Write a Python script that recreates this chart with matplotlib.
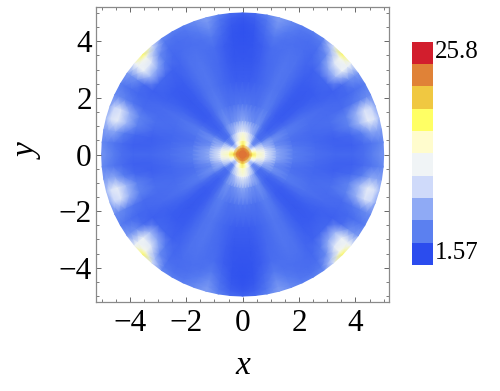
# disk heat map with stepped color legend
import numpy as np
import matplotlib
matplotlib.use("Agg")
import matplotlib.pyplot as plt
from matplotlib.colors import LinearSegmentedColormap, ListedColormap
from matplotlib.ticker import MultipleLocator

plt.rcParams["font.family"] = ["Liberation Serif", "DejaVu Serif"]

vmin = 1.57
vmax = 25.8
bar_colors = ["#2b4cee", "#5b80f0", "#8faaf5", "#cfdafa", "#f0f4f6",
              "#fffccd", "#ffff64", "#f0c841", "#e08237", "#d21e2d"]
bar_labels = ["1.57", "25.8"]
x_ticks = [-4, -2, 0, 2, 4]

radii = [0, 0.15, 0.25, 0.35, 0.5, 0.8, 1.2, 1.8, 2.6, 3.3, 3.9, 4.3, 4.6, 4.85, 5.0]
angles = list(range(0, 95, 5))
# one quadrant: rows are radii, columns are angles 0..90
field = [
    [23.5, 23.5, 23.5, 23.5, 23.5, 23.5, 23.5, 23.5, 23.5, 23.5, 23.5, 23.5, 23.5, 23.5, 23.5, 23.5, 23.5, 23.5, 23.5],
    [23.5, 23.5, 23.5, 23.5, 23.5, 23.5, 23.5, 23.5, 23.5, 23.5, 23.5, 23.5, 23.5, 23.5, 23.5, 23.5, 23.5, 23.5, 23.5],
    [22.5, 22.5, 22, 22, 22, 21.5, 21.5, 21, 21, 21, 21, 21, 21.5, 21.5, 22, 22, 22, 22.5, 22.5],
    [19, 18.5, 17.5, 16, 15, 14, 12.5, 11, 10, 9.5, 10, 11, 12.5, 14, 15, 16, 17.5, 18.5, 19],
    [16, 15.5, 15, 14, 13, 12, 10, 8, 6, 5.5, 6, 8, 10, 12, 13, 14, 15, 15.5, 16],
    [12, 12, 11.5, 10, 8.5, 7.5, 6.5, 4.5, 3.5, 3.5, 3.5, 4.5, 6.5, 7.5, 8.5, 10, 11.5, 12, 12.5],
    [7, 7, 6.5, 5.5, 5, 5.5, 5, 3.5, 3, 2.8, 3, 3.5, 5, 5.5, 5, 5.5, 6, 6.5, 7],
    [4.2, 4.2, 3.8, 3.5, 3.6, 4, 4, 3.2, 2.6, 2.4, 2.6, 3.2, 4, 4.2, 3.8, 3.5, 3.6, 3.8, 3.8],
    [3.4, 3.2, 3, 3, 3.2, 3.4, 3.5, 3, 2.5, 2.3, 2.5, 3, 3.6, 3.8, 3.4, 3, 2.8, 2.6, 2.6],
    [3, 2.8, 2.7, 3.1, 3.4, 3.2, 3.2, 2.8, 2.5, 2.4, 2.5, 3, 3.6, 3.8, 3.4, 3.1, 2.6, 2.2, 2.2],
    [3, 2.7, 3, 4.5, 4.5, 3.2, 2.9, 2.7, 3, 3, 2.8, 2.9, 3.5, 3.6, 3.4, 3.3, 2.6, 2.1, 2],
    [3.4, 3.2, 4.2, 8, 7.5, 3.8, 3, 3.2, 8, 7, 4, 3, 3.3, 3.4, 3.5, 4, 3, 2.1, 1.9],
    [4.2, 3.8, 6.5, 11.5, 10.5, 4.5, 3.4, 5, 12, 11, 5, 3.4, 3.3, 3.5, 4, 5, 3.4, 2.3, 2],
    [5, 4.4, 6.5, 10.5, 9.5, 5, 3.8, 5.5, 12, 13, 8, 4, 3.6, 3.8, 4.6, 5.8, 3.8, 2.7, 2.3],
    [5.5, 4.8, 6, 8, 7, 5, 4.2, 6, 12, 18, 10, 4.8, 4.2, 4.2, 5, 6.2, 4.4, 3.2, 2.8],
]

# mirror the quadrant round both axes
quad = np.array(field)
half = np.hstack([quad, quad[:, -2::-1]])
full = np.hstack([half, half[:, -2::-1]])
theta = np.radians(np.arange(full.shape[1]) * (angles[1] - angles[0]))
rr, tt = np.meshgrid(radii, theta, indexing="ij")

fig = plt.figure(figsize=(5, 3.91), dpi=100)
ax = fig.add_axes([96 / 500, 1 - 301.7 / 391, 293.3 / 500, 294.4 / 391])

cmap = LinearSegmentedColormap.from_list("steps", bar_colors)
ax.pcolormesh(rr * np.cos(tt), rr * np.sin(tt), full, cmap=cmap, vmin=vmin, vmax=vmax,
              shading="gouraud", rasterized=True)

ax.set_xlim(-5.2, 5.2)
ax.set_ylim(-5.2, 5.2)
ax.set_xticks(x_ticks)
ax.set_yticks(x_ticks)
ax.set_xticklabels([str(t).replace("-", "\u2212") for t in x_ticks])
ax.set_yticklabels([str(t).replace("-", "\u2212") for t in x_ticks])
ax.xaxis.set_minor_locator(MultipleLocator(0.5))
ax.yaxis.set_minor_locator(MultipleLocator(0.5))
ax.tick_params(which="major", direction="in", top=True, right=True, length=3.5,
               width=0.7, color="#666666", labelsize=22.5)
ax.tick_params(axis="x", which="major", pad=5)
ax.tick_params(axis="y", which="major", pad=3)
ax.tick_params(which="minor", direction="in", top=True, right=True, length=2,
               width=0.6, color="#666666")
for s in ax.spines.values():
    s.set_color("#8a8a8a")
    s.set_linewidth(0.9)

fig.text(243 / 500, 1 - 366 / 391, "x", style="italic", fontsize=24, ha="center", va="center")
fig.text(29 / 500, 1 - 152 / 391, "y", style="italic", fontsize=24, rotation=90, ha="center", va="center")

# stepped legend
cax = fig.add_axes([411.7 / 500, 1 - 265 / 391, 21.6 / 500, 223.3 / 391])
steps = np.arange(len(bar_colors)).reshape(-1, 1)
cax.pcolormesh(steps, cmap=ListedColormap(bar_colors), vmin=-0.5, vmax=len(bar_colors) - 0.5)
cax.axis("off")
fig.text(435 / 500, 1 - 52 / 391, bar_labels[1], fontsize=18, ha="left", va="center")
fig.text(435 / 500, 1 - 253 / 391, bar_labels[0], fontsize=18, ha="left", va="center")

plt.savefig("out.png", dpi=100)
